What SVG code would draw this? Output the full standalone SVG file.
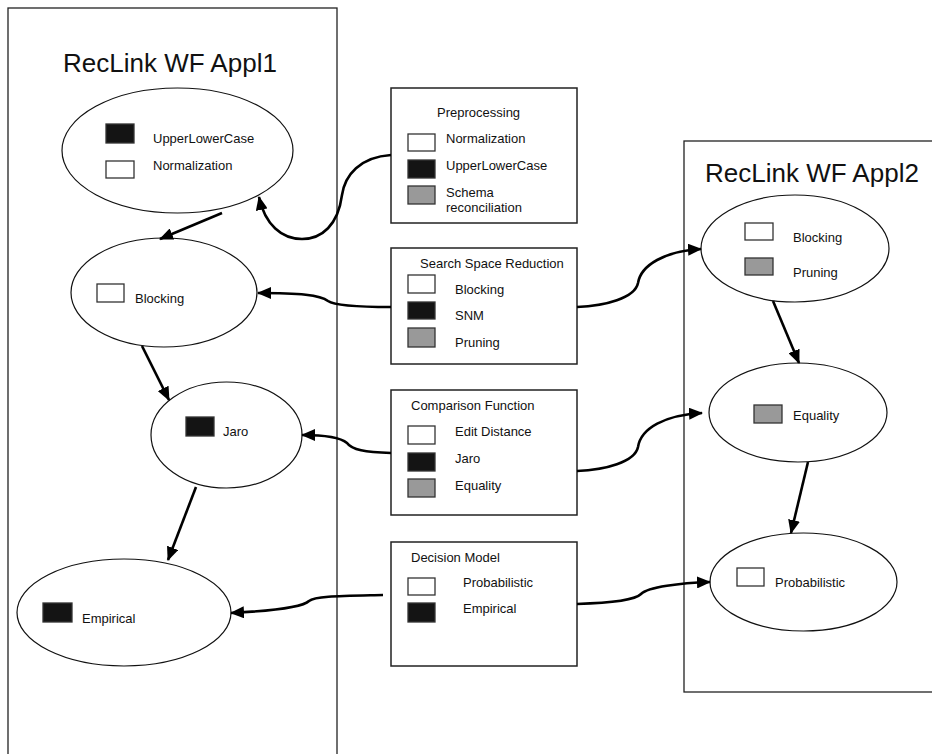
<svg xmlns="http://www.w3.org/2000/svg" width="932" height="754" viewBox="0 0 932 754">
<style>
.frame{fill:none;stroke:#222;stroke-width:1.3}
.node{fill:#fff;stroke:#111;stroke-width:1.2}
.box{fill:#fff;stroke:#222;stroke-width:1.5}
.sw{fill:#fff;stroke:#333;stroke-width:1.3}
.blk{fill:#141414;stroke:#333;stroke-width:1.3}
.gry{fill:#999;stroke:#333;stroke-width:1.3}
.t{font-family:"Liberation Sans",Arial,sans-serif;font-size:13px;fill:#111}
.title{font-family:"Liberation Sans",Arial,sans-serif;font-size:26px;fill:#111}
.c{fill:none;stroke:#000;stroke-width:2.6}
</style>
<defs>
<marker id="ah" markerUnits="userSpaceOnUse" markerWidth="14" markerHeight="12" viewBox="0 0 14 12" refX="13" refY="6" orient="auto">
<path d="M0,0 L14,6 L0,12 Z" fill="#000"/>
</marker>
</defs>
<rect width="932" height="754" fill="#fff"/>

<g id="appl1">
<rect class="frame" x="8" y="8" width="329" height="760"/>
<text class="title" x="63" y="72">RecLink WF Appl1</text>
</g>
<g id="appl2">
<rect class="frame" x="684" y="141" width="260" height="551"/>
<text class="title" x="705" y="182">RecLink WF Appl2</text>
</g>

<g id="n-upper">
<ellipse class="node" cx="177.5" cy="150.5" rx="115.5" ry="62.5"/>
<rect class="blk" x="106" y="124" width="28" height="19"/>
<text class="t" x="153" y="143">UpperLowerCase</text>
<rect class="sw" x="106" y="161" width="28" height="17"/>
<text class="t" x="153" y="170">Normalization</text>
</g>

<g id="n-blocking1">
<ellipse class="node" cx="164" cy="292.5" rx="93" ry="54.5"/>
<rect class="sw" x="97" y="284" width="27" height="18"/>
<text class="t" x="135" y="303">Blocking</text>
</g>

<g id="n-jaro">
<ellipse class="node" cx="226.5" cy="435" rx="75.5" ry="53"/>
<rect class="blk" x="186" y="417" width="28" height="19"/>
<text class="t" x="223" y="436">Jaro</text>
</g>

<g id="n-empirical">
<ellipse class="node" cx="124" cy="612.5" rx="107" ry="53.5"/>
<rect class="blk" x="43" y="603" width="29" height="19"/>
<text class="t" x="82" y="623">Empirical</text>
</g>

<g id="b-pre">
<rect class="box" x="391" y="88" width="186" height="135"/>
<text class="t" x="437" y="117">Preprocessing</text>
<rect class="sw" x="408" y="134" width="27" height="17"/>
<text class="t" x="446" y="143">Normalization</text>
<rect class="blk" x="408" y="160" width="27" height="18"/>
<text class="t" x="446" y="170">UpperLowerCase</text>
<rect class="gry" x="408" y="186" width="27" height="18"/>
<text class="t" x="446" y="197">Schema</text>
<text class="t" x="446" y="212">reconciliation</text>
</g>

<g id="b-ssr">
<rect class="box" x="391" y="248" width="186" height="116"/>
<text class="t" x="420" y="268">Search Space Reduction</text>
<rect class="sw" x="408" y="275" width="27" height="18"/>
<text class="t" x="455" y="294">Blocking</text>
<rect class="blk" x="408" y="302" width="27" height="17"/>
<text class="t" x="455" y="320">SNM</text>
<rect class="gry" x="408" y="328" width="27" height="19"/>
<text class="t" x="455" y="347">Pruning</text>
</g>

<g id="b-cmp">
<rect class="box" x="391" y="390" width="186" height="125"/>
<text class="t" x="411" y="410">Comparison Function</text>
<rect class="sw" x="408" y="426" width="27" height="18"/>
<text class="t" x="455" y="436">Edit Distance</text>
<rect class="blk" x="408" y="453" width="27" height="18"/>
<text class="t" x="455" y="463">Jaro</text>
<rect class="gry" x="408" y="479" width="27" height="18"/>
<text class="t" x="455" y="490">Equality</text>
</g>

<g id="b-dec">
<rect class="box" x="391" y="542" width="186" height="124"/>
<text class="t" x="411" y="562">Decision Model</text>
<rect class="sw" x="408" y="578" width="27" height="17"/>
<text class="t" x="463" y="587">Probabilistic</text>
<rect class="blk" x="408" y="603" width="27" height="19"/>
<text class="t" x="463" y="613">Empirical</text>
</g>

<g id="n-blocking2">
<ellipse class="node" cx="795" cy="248.5" rx="94" ry="53.5"/>
<rect class="sw" x="745" y="223" width="28" height="17"/>
<text class="t" x="793" y="242">Blocking</text>
<rect class="gry" x="745" y="258" width="28" height="17"/>
<text class="t" x="793" y="277">Pruning</text>
</g>

<g id="n-equality">
<ellipse class="node" cx="798" cy="412.5" rx="89" ry="49.5"/>
<rect class="gry" x="754" y="405" width="28" height="18"/>
<text class="t" x="793" y="420">Equality</text>
</g>

<g id="n-prob">
<ellipse class="node" cx="803.5" cy="582" rx="93.5" ry="49"/>
<rect class="sw" x="737" y="568" width="27" height="18"/>
<text class="t" x="775" y="587">Probabilistic</text>
</g>

<g id="connectors">
<path class="c" d="M222,213 L160,239" marker-end="url(#ah)"/>
<path class="c" d="M142,346 L169,400" marker-end="url(#ah)"/>
<path class="c" d="M196,487 L168,560" marker-end="url(#ah)"/>
<path class="c" d="M773,301 L799,363" marker-end="url(#ah)"/>
<path class="c" d="M808,462 L791,533" marker-end="url(#ah)"/>
<path class="c" d="M391,155 C360,157 345,175 342,195 C338,225 322,239 302,239 C282,239 265,225 259,197" marker-end="url(#ah)"/>
<path class="c" d="M391,307 C360,307 335,306 328,301 C320,295 300,293 258,293" marker-end="url(#ah)"/>
<path class="c" d="M577,307 C605,306 635,298 638,283 C641,265 665,251 701,249" marker-end="url(#ah)"/>
<path class="c" d="M391,453 C365,452 352,450 347,443 C340,437 320,435 302,435" marker-end="url(#ah)"/>
<path class="c" d="M577,471 C605,470 635,462 638,447 C641,428 665,415 702,413" marker-end="url(#ah)"/>
<path class="c" d="M383,595 C340,596 315,596 309,601 C303,607 270,611 231,613" marker-end="url(#ah)"/>
<path class="c" d="M577,604 C610,603 635,600 641,594 C648,587 680,583 710,582" marker-end="url(#ah)"/>
</g>
</svg>
